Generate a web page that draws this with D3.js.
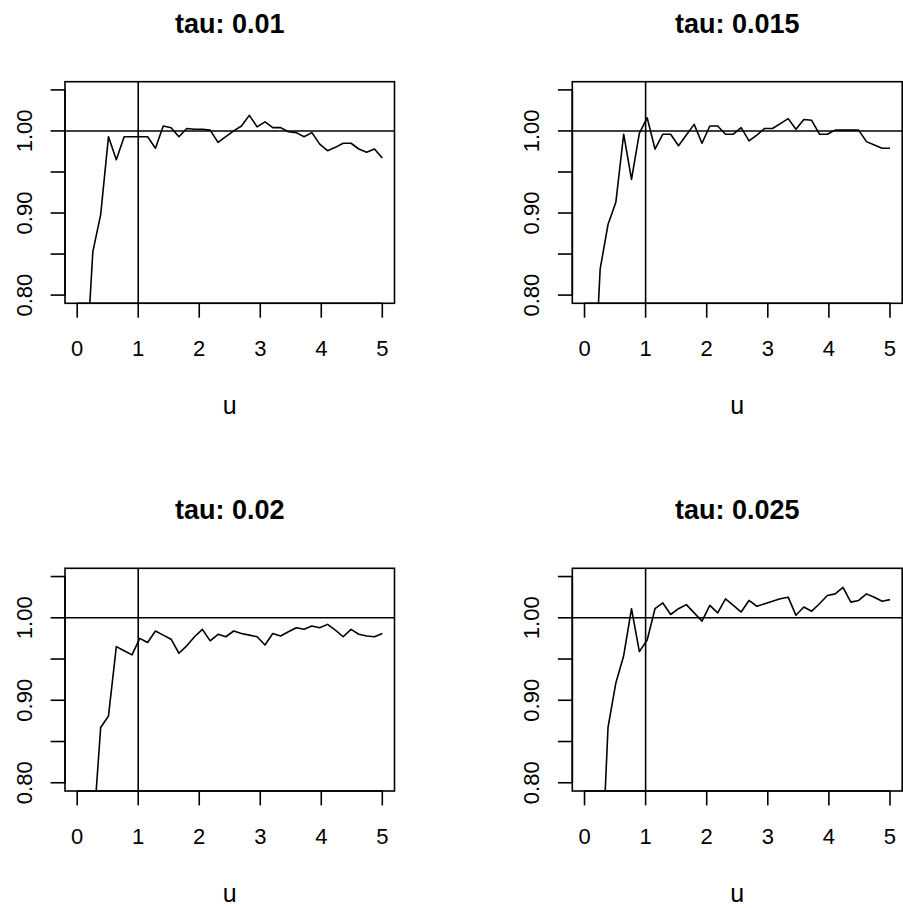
<!DOCTYPE html>
<html>
<head>
<meta charset="utf-8">
<script src="https://cdn.jsdelivr.net/npm/d3@7"></script>
<style>
  body { margin: 0; background: #fff; }
  svg { display: block; font-family: "Liberation Sans", Arial, Helvetica, sans-serif; }
  .frame, .ref, .series, .tick { fill: none; stroke: #000; stroke-width: 1.6; }
  .series { stroke-linejoin: round; }
  .main { font-weight: bold; font-size: 27px; }
  .ticklab { font-size: 22px; }
  .xlab { font-size: 25px; }
</style>
</head>
<body>
<div id="chart"></div>
<script>
// grid of u values (40 points, 0..5)
let u = [0, 0.1282, 0.2564, 0.3846, 0.5128, 0.6410, 0.7692, 0.8974, 1.0256, 1.1538,
    1.2821, 1.4103, 1.5385, 1.6667, 1.7949, 1.9231, 2.0513, 2.1795, 2.3077, 2.4359,
    2.5641, 2.6923, 2.8205, 2.9487, 3.0769, 3.2051, 3.3333, 3.4615, 3.5897, 3.7179,
    3.8462, 3.9744, 4.1026, 4.2308, 4.3590, 4.4872, 4.6154, 4.7436, 4.8718, 5.0];

let taus = ['0.01', '0.015', '0.02', '0.025'];

let ratio001 = [0.45, 0.69, 0.853, 0.898, 0.993, 0.965, 0.993, 0.993, 0.993, 0.993,
    0.979, 1.006, 1.004, 0.993, 1.003, 1.002, 1.002, 1.001, 0.986, 0.993,
    1.000, 1.006, 1.019, 1.005, 1.011, 1.004, 1.004, 0.999, 0.998, 0.993,
    0.998, 0.984, 0.976, 0.980, 0.985, 0.985, 0.978, 0.974, 0.978, 0.967];

let ratio0015 = [0.45, 0.642, 0.832, 0.886, 0.913, 0.996, 0.941, 0.997, 1.016, 0.978,
    0.996, 0.996, 0.982, 0.995, 1.008, 0.985, 1.006, 1.006, 0.996, 0.996,
    1.004, 0.988, 0.995, 1.003, 1.003, 1.009, 1.015, 1.002, 1.014, 1.013,
    0.996, 0.996, 1.001, 1.001, 1.001, 1.001, 0.987, 0.983, 0.979, 0.979];

let ratio002 = [0.40, 0.55, 0.733, 0.867, 0.881, 0.965, 0.960, 0.955, 0.975, 0.970,
    0.984, 0.979, 0.974, 0.957, 0.966, 0.977, 0.986, 0.972, 0.980, 0.977,
    0.984, 0.981, 0.979, 0.977, 0.967, 0.981, 0.978, 0.983, 0.988, 0.986,
    0.990, 0.988, 0.992, 0.985, 0.977, 0.986, 0.980, 0.978, 0.977, 0.981];

let ratio0025 = [0.38, 0.50, 0.652, 0.867, 0.921, 0.954, 1.011, 0.959, 0.973, 1.011,
    1.018, 1.004, 1.011, 1.016, 1.006, 0.996, 1.015, 1.006, 1.023, 1.015,
    1.007, 1.021, 1.014, 1.017, 1.020, 1.023, 1.025, 1.003, 1.013, 1.008,
    1.017, 1.027, 1.029, 1.037, 1.019, 1.021, 1.029, 1.025, 1.020, 1.022];

let series = [ratio001, ratio0015, ratio002, ratio0025];

let xTicks = [0, 1, 2, 3, 4, 5];
let yTicks = [0.80, 0.85, 0.90, 0.95, 1.00, 1.05];
let yLabels = [0.80, 0.90, 1.00];

const width = 903, height = 908;
// plot regions (par mfrow = c(2,2))
let boxes = [
    { left: 65, right: 394.5, top: 81.7, bottom: 303.3 },
    { left: 572.3, right: 902.2, top: 81.7, bottom: 303.3 },
    { left: 65, right: 394.5, top: 568.3, bottom: 791 },
    { left: 572.3, right: 902.2, top: 568.3, bottom: 791 }
];

let svg = d3.select('#chart').append('svg')
    .attr('width', width)
    .attr('height', height);

boxes.forEach((b, i) => drawPanel(b, series[i], taus[i], i));

function drawPanel(b, values, tau, i) {
    // R pads the range by 4% on each side
    let x = d3.scaleLinear().domain([-0.2, 5.2]).range([b.left, b.right]);
    let y = d3.scaleLinear().domain([0.79, 1.06]).range([b.bottom, b.top]);
    let g = svg.append('g');

    g.append('clipPath')
        .attr('id', `clip-${i}`)
        .append('rect')
        .attr('x', b.left)
        .attr('y', b.top)
        .attr('width', b.right - b.left)
        .attr('height', b.bottom - b.top);

    let inner = g.append('g').attr('clip-path', `url(#clip-${i})`);

    let line = d3.line()
        .x((d, j) => x(u[j]))
        .y(d => y(d));

    inner.append('path')
        .classed('series', true)
        .datum(values)
        .attr('d', line);

    // abline(h = 1) and abline(v = 1)
    inner.append('line')
        .classed('ref', true)
        .attr('x1', b.left).attr('x2', b.right)
        .attr('y1', y(1)).attr('y2', y(1));
    inner.append('line')
        .classed('ref', true)
        .attr('x1', x(1)).attr('x2', x(1))
        .attr('y1', b.top).attr('y2', b.bottom);

    g.append('rect')
        .classed('frame', true)
        .attr('x', b.left)
        .attr('y', b.top)
        .attr('width', b.right - b.left)
        .attr('height', b.bottom - b.top);

    // x axis
    let xAxis = g.append('g').attr('transform', `translate(0,${b.bottom})`);
    xAxis.append('line')
        .classed('tick', true)
        .attr('x1', x(xTicks[0])).attr('x2', x(xTicks[xTicks.length - 1]));
    xAxis.selectAll('.xt')
        .data(xTicks)
        .enter()
        .append('line')
        .classed('tick xt', true)
        .attr('x1', d => x(d)).attr('x2', d => x(d))
        .attr('y1', 0).attr('y2', 14.4);
    xAxis.selectAll('.xl')
        .data(xTicks)
        .enter()
        .append('text')
        .classed('ticklab xl', true)
        .attr('text-anchor', 'middle')
        .attr('x', d => x(d))
        .attr('y', 52.5)
        .text(d => d);

    // y axis
    let yAxis = g.append('g').attr('transform', `translate(${b.left},0)`);
    yAxis.append('line')
        .classed('tick', true)
        .attr('y1', y(yTicks[0])).attr('y2', y(yTicks[yTicks.length - 1]));
    yAxis.selectAll('.yt')
        .data(yTicks)
        .enter()
        .append('line')
        .classed('tick yt', true)
        .attr('x1', 0).attr('x2', -14.4)
        .attr('y1', d => y(d)).attr('y2', d => y(d));
    yAxis.selectAll('.yl')
        .data(yLabels)
        .enter()
        .append('text')
        .classed('ticklab yl', true)
        .attr('text-anchor', 'middle')
        .attr('transform', d => `translate(-33.3,${y(d)}) rotate(-90)`)
        .text(d => d3.format('.2f')(d));

    // titles
    let cx = (b.left + b.right) / 2;
    g.append('text')
        .classed('main', true)
        .attr('text-anchor', 'middle')
        .attr('x', cx)
        .attr('y', b.top - 49)
        .text(`tau: ${tau}`);
    g.append('text')
        .classed('xlab', true)
        .attr('text-anchor', 'middle')
        .attr('x', cx)
        .attr('y', b.bottom + 110.5)
        .text('u');
}
</script>
</body>
</html>
